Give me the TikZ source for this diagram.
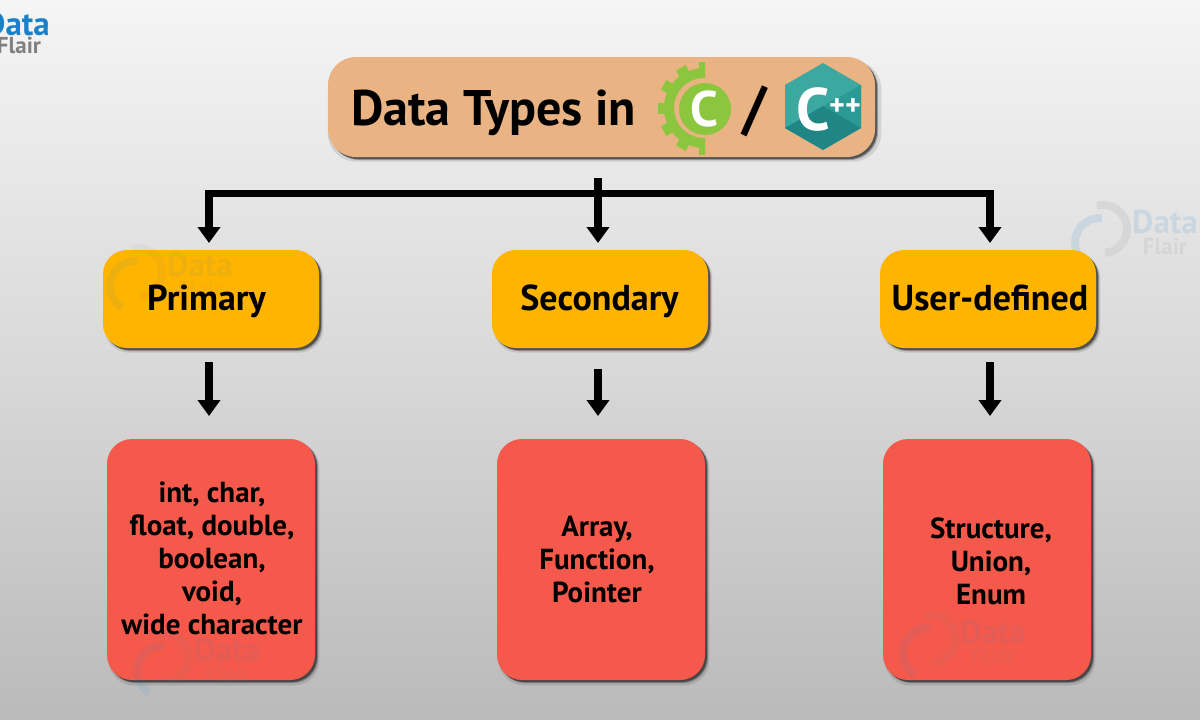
\documentclass[tikz,border=0pt]{standalone}
\usepackage{fontspec}
\setmainfont{PT Sans}
\usetikzlibrary{arrows.meta,shadows,positioning}
\definecolor{rootfill}{HTML}{E9B384}
\definecolor{ambfill}{HTML}{FFB400}
\definecolor{redfill}{HTML}{F5594C}
\definecolor{geargreen}{HTML}{8CC63F}
\definecolor{wmblue}{HTML}{1A80C8}
\definecolor{wmgrey}{HTML}{808080}
\definecolor{hexlight}{HTML}{3DA8A0}
\definecolor{hexmid}{HTML}{2B9A95}
\definecolor{hexdark}{HTML}{1F8585}
\tikzset{
  softshadow/.style={
    general shadow={fill=black,fill opacity=.10,shadow xshift=3pt,shadow yshift=-4pt,shadow scale=1.012},
    general shadow={fill=black,fill opacity=.25,shadow xshift=3pt,shadow yshift=-3pt},
    general shadow={fill=black,fill opacity=.45,shadow xshift=2pt,shadow yshift=-2pt}},
  rootbox/.style={softshadow,fill=rootfill,rounded corners=28pt,minimum width=547pt,minimum height=100pt,inner sep=0pt},
  catbox/.style={softshadow,fill=ambfill,rounded corners=24pt,minimum width=216pt,minimum height=98pt,inner sep=0pt},
  listbox/.style={softshadow,fill=redfill,rounded corners=25pt,minimum width=208pt,minimum height=241pt,inner sep=0pt},
  cattext/.style={anchor=base,inner sep=0pt,font=\fontsize{36}{40}\selectfont\bfseries,text=black},
  listtext/.style={inner sep=0pt,align=center,font=\fontsize{29}{33}\selectfont\bfseries,text=black},
  blockarrow/.style={draw=black,line width=8pt,-{Triangle[width=22pt,length=16pt]}},
  busline/.style={draw=black,line width=7pt},
  wmdata/.style={font=\fontsize{33}{33}\selectfont\bfseries,text=wmblue,inner sep=0pt},
  wmflair/.style={font=\fontsize{23}{23}\selectfont\bfseries,text=wmgrey,inner sep=0pt},
}
% watermark: #1 name prefix, #2 x, #3 y of "Data", #4 opacity
\newcommand{\wmark}[4]{%
  \begin{scope}[opacity=#4,transparency group]
    \draw[wmblue,line width=8pt] (#2-65,#3+21) ++(-85:25) arc[start angle=-85,end angle=-240,radius=25];
    \draw[wmgrey,line width=8pt] (#2-62,#3+7) ++(-105:24) arc[start angle=-105,end angle=85,radius=24];
    \node[wmdata] (#1d) at (#2,#3) {Data};
    \node[wmflair] (#1f) at (#2,#3+24) {Flair};
  \end{scope}}
\begin{document}
\begin{tikzpicture}[x=1pt,y=-1pt]
\useasboundingbox (0,0) rectangle (1200,720);
\clip (0,0) rectangle (1200,720);
\shade[top color=black!4,bottom color=black!27,middle color=black!15] (0,0) rectangle (1200,720);

% top-left logo
\node[wmdata] (logod) at (17,24) {Data};
\node[wmflair] (logof) at (19,45) {Flair};
\wmark{wa}{1165}{222}{.12}

% boxes
\node[rootbox] (root) at (601.5,107) {};
\node[catbox] (prim) at (211,299) {};
\node[catbox] (sec) at (600,299) {};
\node[catbox] (user) at (988,299) {};
\node[listbox] (l1) at (211,559.5) {};
\node[listbox] (l2) at (601,559.5) {};
\node[listbox] (l3) at (987,559.5) {};

\wmark{wb}{200}{265}{.07}
\wmark{wc}{227}{650}{.08}
\wmark{wd}{993}{632}{.08}

% box texts
\node[cattext] (primt) at (206.5,310) {Primary};
\node[cattext] (sect) at (599.5,310) {Secondary};
\node[cattext] (usert) at (990,310) {User-defined};
\node[listtext] (l1t) at (212,558) {int, char,\\float, double,\\boolean,\\void,\\wide character};
\node[listtext] (l2t) at (597,559.5) {Array,\\Function,\\Pointer};
\node[listtext] (l3t) at (991,561.5) {Structure,\\Union,\\Enum};

% title
\node[anchor=base west,inner sep=0pt,font=\fontsize{50}{54}\selectfont\bfseries,text=black] (title) at (351,125) {Data Types in};
\node[inner sep=0pt,font=\fontsize{60}{60}\selectfont\bfseries,text=black] (slash) at (755,111) {/};

% C logo
\begin{scope}
  \clip (650,50) rectangle (705,170);
  \draw[geargreen,line width=10pt] (704,108) circle[radius=35];
  \foreach \a in {90,120,...,270}
    \draw[geargreen,line width=11pt] (704,108) ++(-\a:36) -- ++(-\a:10.5);
\end{scope}
\fill[geargreen] (705,109) circle[radius=26];
\node[inner sep=0pt,font=\fontsize{50}{50}\selectfont\bfseries,text=white] (clogo) at (704,109) {C};

% C++ logo
\fill[hexlight] (823,63) -- (861,85) -- (861,128) -- (823,150) -- (785,128) -- (785,85) -- cycle;
\fill[hexmid] (823,106) -- (861,85) -- (861,128) -- cycle;
\fill[hexdark] (785,128) -- (823,106) -- (861,128) -- (823,150) -- cycle;
\node[inner sep=0pt,font=\fontsize{60}{60}\selectfont\bfseries,text=white] (cpp) at (813,109) {C};
\node[anchor=west,inner sep=0pt,font=\fontsize{30}{30}\selectfont\bfseries,text=white] (plus) at (829,107) {++};

% connectors
\coordinate (stem) at (598,178);
\coordinate (busl) at (209,193);
\coordinate (busr) at (990,193);
\coordinate (tipa) at (209,243);
\coordinate (tipb) at (598,243);
\coordinate (tipc) at (990,243);
\coordinate (pa) at (209,362);
\coordinate (pb) at (598,369);
\coordinate (pc) at (990,362);
\coordinate (qa) at (209,416);
\coordinate (qb) at (598,416);
\coordinate (qc) at (990,416);
\draw[busline,line cap=butt] ([xshift=-4pt]busl) -- ([xshift=4pt]busr);
\draw[blockarrow] (busl) -- (tipa);
\draw[blockarrow] (stem) -- (tipb);
\draw[blockarrow] (busr) -- (tipc);
\draw[blockarrow] (pa) -- (qa);
\draw[blockarrow] (pb) -- (qb);
\draw[blockarrow] (pc) -- (qc);
\end{tikzpicture}
\end{document}
